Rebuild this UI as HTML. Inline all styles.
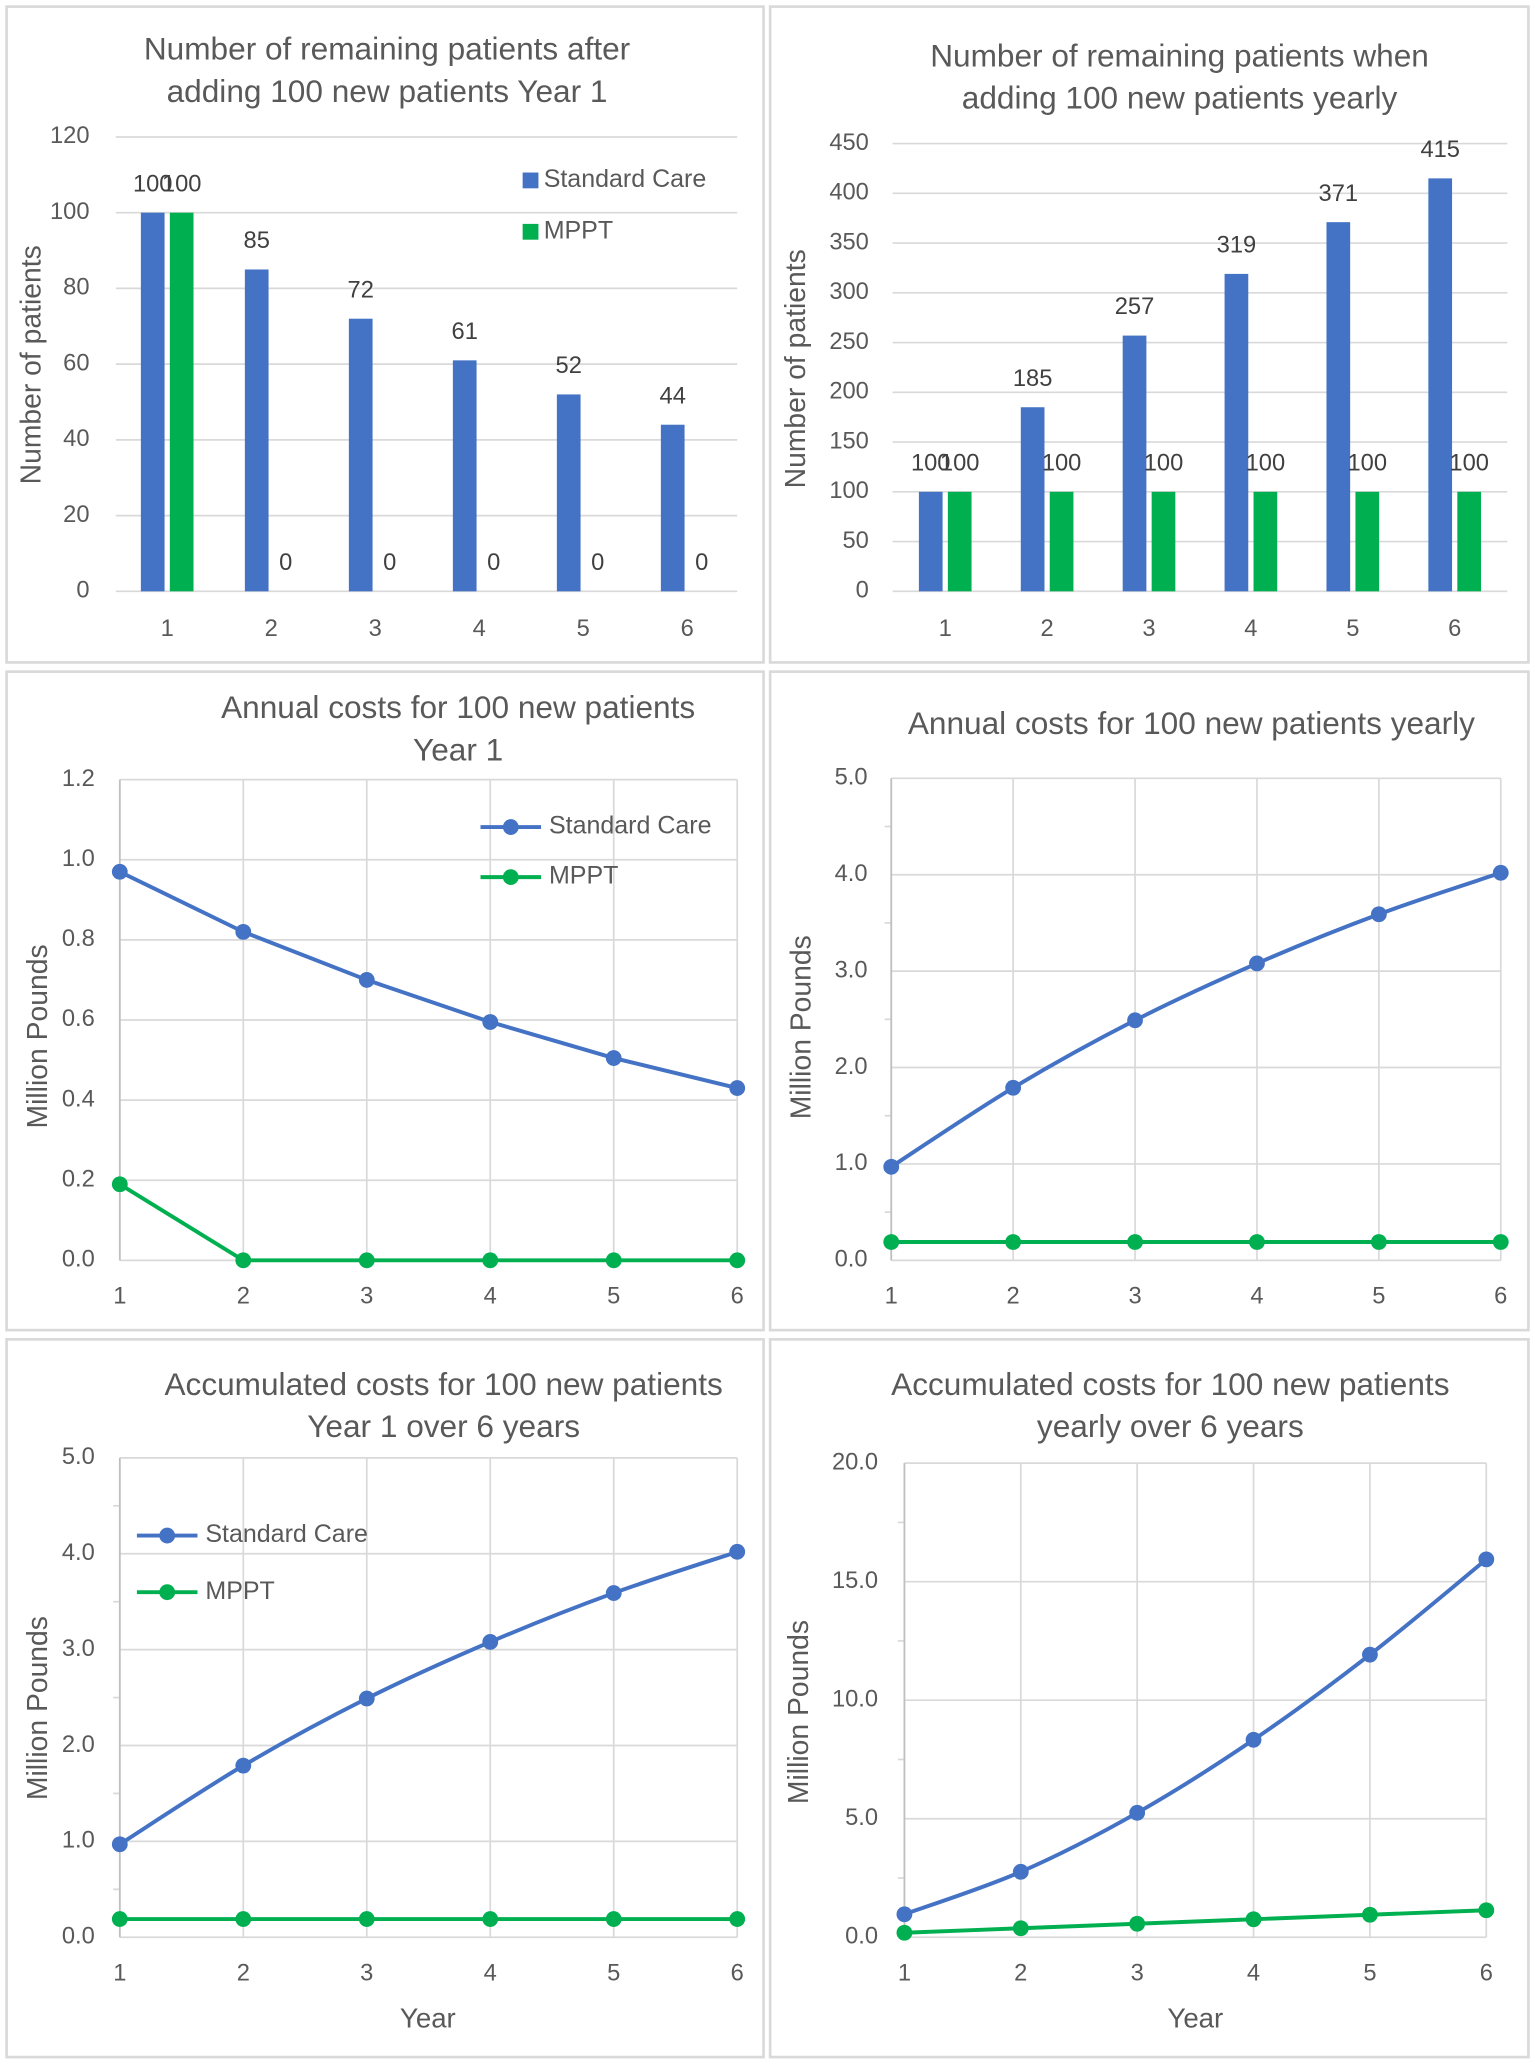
<!DOCTYPE html>
<html><head><meta charset="utf-8"><style>
html,body{margin:0;padding:0;background:#fff}
svg{display:block;font-family:"Liberation Sans",sans-serif}
</style></head><body>
<svg id="s" width="1535" height="2065" viewBox="0 0 1166 1568" preserveAspectRatio="none" xmlns="http://www.w3.org/2000/svg"></svg>
<script>
const years = [1,2,3,4,5,6];
const c1Standard = [100,85,72,61,52,44];
const c1Mppt = [100,0,0,0,0,0];
const c2Standard = [100,185,257,319,371,415];
const c2Mppt = [100,100,100,100,100,100];
const c3Standard = [0.97,0.82,0.70,0.595,0.505,0.43];
const c3Mppt = [0.19,0,0,0,0,0];
const c4Standard = [0.97,1.79,2.49,3.08,3.59,4.02];
const c4Mppt = [0.19,0.19,0.19,0.19,0.19,0.19];
const c5Standard = [0.97,1.79,2.49,3.08,3.59,4.02];
const c5Mppt = [0.19,0.19,0.19,0.19,0.19,0.19];
const c6Standard = [0.97,2.76,5.25,8.33,11.92,15.94];
const c6Mppt = [0.19,0.38,0.57,0.76,0.95,1.14];
const c1Ticks = [0,20,40,60,80,100,120];
const c2Ticks = [0,50,100,150,200,250,300,350,400,450];
const c3Ticks = ["0.0","0.2","0.4","0.6","0.8","1.0","1.2"];
const c4Ticks = ["0.0","1.0","2.0","3.0","4.0","5.0"];
const c5Ticks = ["0.0","1.0","2.0","3.0","4.0","5.0"];
const c6Ticks = ["0.0","5.0","10.0","15.0","20.0"];

const S=document.getElementById('s');
const NS="http://www.w3.org/2000/svg";
const BLUE="#4472C4",GREEN="#00B050",GRID="#d9d9d9",TXT="#595959";
function el(tag,attrs,parent,text){const e=document.createElementNS(NS,tag);for(const k in attrs)e.setAttribute(k,attrs[k]);if(text!==undefined)e.textContent=text;(parent||S).appendChild(e);return e;}

function panel(x,y,w,h,name){
  const g=el('g',{});
  
  
  el('rect',{x:x,y:y,width:w,height:h,fill:'#fff',stroke:'#d9d9d9','stroke-width':2},g);
  return g;
}
function title(g,lines,cx,ys){
  lines.forEach((t,i)=>{const e=el('text',{x:cx,y:ys[i],'text-anchor':'middle','font-size':24,fill:TXT,'dominant-baseline':'middle'},g,t);
  
  });
}
function ylabel(g,t,x,y){const e=el('text',{x:x,y:y,'text-anchor':'middle','font-size':21.5,fill:TXT,transform:`rotate(-90 ${x} ${y})`,'dominant-baseline':'middle'},g,t);
  
  }
function xlabel(g,t,x,y){const e=el('text',{x:x,y:y,'text-anchor':'middle','font-size':21,fill:TXT,'dominant-baseline':'middle'},g,t);
  
  }

function axes(g,cfg){
  const {x0,x1,yTop,yBot,max,ticks,tickX,xFirst,xLast,vgrid,xlabY,minor}=cfg;
  const ys=v=>yBot-(v/max)*(yBot-yTop);
  const xs=i=>xFirst+i*(xLast-xFirst)/(years.length-1);
  ticks.forEach(t=>{const v=parseFloat(t);const yy=ys(v);
    el('line',{x1:x0,x2:x1,y1:yy,y2:yy,stroke:GRID,'stroke-width':1.3},g);
    const e=el('text',{x:tickX,y:yy,'text-anchor':'end','font-size':18,fill:TXT,'dominant-baseline':'middle'},g,String(t));
    
    
  });
  if(minor){for(let i=0;i<ticks.length-1;i++){const v=(parseFloat(ticks[i])+parseFloat(ticks[i+1]))/2;const yy=ys(v);el('line',{x1:x0-5,x2:x0,y1:yy,y2:yy,stroke:GRID,'stroke-width':1.3},g);}}
  if(vgrid){years.forEach((yr,i)=>el('line',{x1:xs(i),x2:xs(i),y1:yTop,y2:yBot,stroke:GRID,'stroke-width':1.3},g));
    el('line',{x1:x0,x2:x0,y1:yTop,y2:yBot,stroke:'#bfbfbf','stroke-width':1.3},g);}
  years.forEach((yr,i)=>{const e=el('text',{x:xs(i),y:xlabY,'text-anchor':'middle','font-size':18,fill:TXT,'dominant-baseline':'middle'},g,String(yr));
    
    });
  return {xs,ys};
}
function bars(g,ax,a,b,bw){
  years.forEach((yr,i)=>{
    const cx=ax.xs(i);
    const r1=el('rect',{x:cx-bw-2,y:ax.ys(a[i]),width:bw,height:ax.ys(0)-ax.ys(a[i]),fill:BLUE},g);
    
    
    const r2=el('rect',{x:cx+2,y:ax.ys(b[i]),width:bw,height:ax.ys(0)-ax.ys(b[i]),fill:GREEN},g);
    
    
    const l1=el('text',{x:cx-bw/2-2,y:ax.ys(a[i])-21,'text-anchor':'middle','font-size':18,fill:'#404040','dominant-baseline':'middle'},g,String(a[i]));
    
    
    const l2=el('text',{x:cx+bw/2+2,y:ax.ys(b[i])-21,'text-anchor':'middle','font-size':18,fill:'#404040','dominant-baseline':'middle'},g,String(b[i]));
    
    
  });
}
function smooth(pts,linear){
  let d=`M${pts[0][0]},${pts[0][1]}`;
  for(let i=0;i<pts.length-1;i++){const p0=pts[i-1]||pts[i],p1=pts[i],p2=pts[i+1],p3=pts[i+2]||p2;
    if(linear){d+=` L${p2[0]},${p2[1]}`;continue;}
    const t=6;
    d+=` C${p1[0]+(p2[0]-p0[0])/t},${p1[1]+(p2[1]-p0[1])/t} ${p2[0]-(p3[0]-p1[0])/t},${p2[1]-(p3[1]-p1[1])/t} ${p2[0]},${p2[1]}`;}
  return d;
}
function series(g,ax,vals,color,name,linear){
  const pts=vals.map((v,i)=>[ax.xs(i),ax.ys(v)]);
  const p=el('path',{d:smooth(pts,linear),fill:'none',stroke:color,'stroke-width':3},g);
  
  
  pts.forEach(q=>{const c=el('circle',{cx:q[0],cy:q[1],r:6,fill:color},g);
    
    });
}
function lineLegend(g,x,y1,y2){
  [[BLUE,'Standard Care',y1],[GREEN,'MPPT',y2]].forEach(([c,t,y])=>{
    const lg=el('g',{},g);
    
    
    el('line',{x1:x,x2:x+46,y1:y,y2:y,stroke:c,'stroke-width':3},lg);
    el('circle',{cx:x+23,cy:y,r:6,fill:c},lg);
    el('text',{x:x+52,y:y,'font-size':19,fill:TXT,'dominant-baseline':'middle'},lg,t);
  });
}

// Chart 1
let g=panel(5,5,575,498,'chart-remaining-year1');
title(g,['Number of remaining patients after','adding 100 new patients Year 1'],294,[39,71]);
ylabel(g,'Number of patients',25,277);
let ax=axes(g,{x0:88,x1:560,yTop:104,yBot:449,max:120,ticks:c1Ticks,tickX:68,xFirst:127,xLast:522,xlabY:478});
bars(g,ax,c1Standard,c1Mppt,18);
[[BLUE,'Standard Care',137],[GREEN,'MPPT',176]].forEach(([c,t,y])=>{const lg=el('g',{},g);
  
  
  el('rect',{x:397,y:y-6,width:12,height:12,fill:c},lg);
  el('text',{x:413,y:y,'font-size':19,fill:TXT,'dominant-baseline':'middle'},lg,t);});

// Chart 2
g=panel(585,5,576,498,'chart-remaining-yearly');
title(g,['Number of remaining patients when','adding 100 new patients yearly'],896,[44,76]);
ylabel(g,'Number of patients',606,280);
ax=axes(g,{x0:678,x1:1145,yTop:109,yBot:449,max:450,ticks:c2Ticks,tickX:660,xFirst:718,xLast:1105,xlabY:478});
bars(g,ax,c2Standard,c2Mppt,18);

// Chart 3
g=panel(5,510,575,500,'chart-annual-costs-year1');
title(g,['Annual costs for 100 new patients','Year 1'],348,[539,571]);
ylabel(g,'Million Pounds',30,787);
ax=axes(g,{x0:91,x1:560,yTop:592,yBot:957,max:1.2,ticks:c3Ticks,tickX:72,xFirst:91,xLast:560,vgrid:true,xlabY:985});
series(g,ax,c3Standard,BLUE,'standard-care',true);
series(g,ax,c3Mppt,GREEN,'mppt',true);
lineLegend(g,365,628,666);

// Chart 4
g=panel(585,510,576,500,'chart-annual-costs-yearly');
title(g,['Annual costs for 100 new patients yearly'],905,[551]);
ylabel(g,'Million Pounds',610,780);
ax=axes(g,{x0:677,x1:1140,yTop:591,yBot:957,max:5,ticks:c4Ticks,tickX:659,xFirst:677,xLast:1140,vgrid:true,xlabY:985,minor:true});
series(g,ax,c4Standard,BLUE,'standard-care');
series(g,ax,c4Mppt,GREEN,'mppt');

// Chart 5
g=panel(5,1017,575,545,'chart-accumulated-year1');
title(g,['Accumulated costs for 100 new patients','Year 1 over 6 years'],337,[1053,1085]);
ylabel(g,'Million Pounds',30,1297);
ax=axes(g,{x0:91,x1:560,yTop:1107,yBot:1471,max:5,ticks:c5Ticks,tickX:72,xFirst:91,xLast:560,vgrid:true,xlabY:1499,minor:true});
series(g,ax,c5Standard,BLUE,'standard-care');
series(g,ax,c5Mppt,GREEN,'mppt');
lineLegend(g,104,1166,1209);
xlabel(g,'Year',325,1534);

// Chart 6
g=panel(585,1017,576,545,'chart-accumulated-yearly');
title(g,['Accumulated costs for 100 new patients','yearly over 6 years'],889,[1053,1085]);
ylabel(g,'Million Pounds',608,1300);
ax=axes(g,{x0:687,x1:1129,yTop:1111,yBot:1471,max:20,ticks:c6Ticks,tickX:667,xFirst:687,xLast:1129,vgrid:true,xlabY:1499,minor:true});
series(g,ax,c6Standard,BLUE,'standard-care');
series(g,ax,c6Mppt,GREEN,'mppt');
xlabel(g,'Year',908,1534);
</script>
</body></html>
